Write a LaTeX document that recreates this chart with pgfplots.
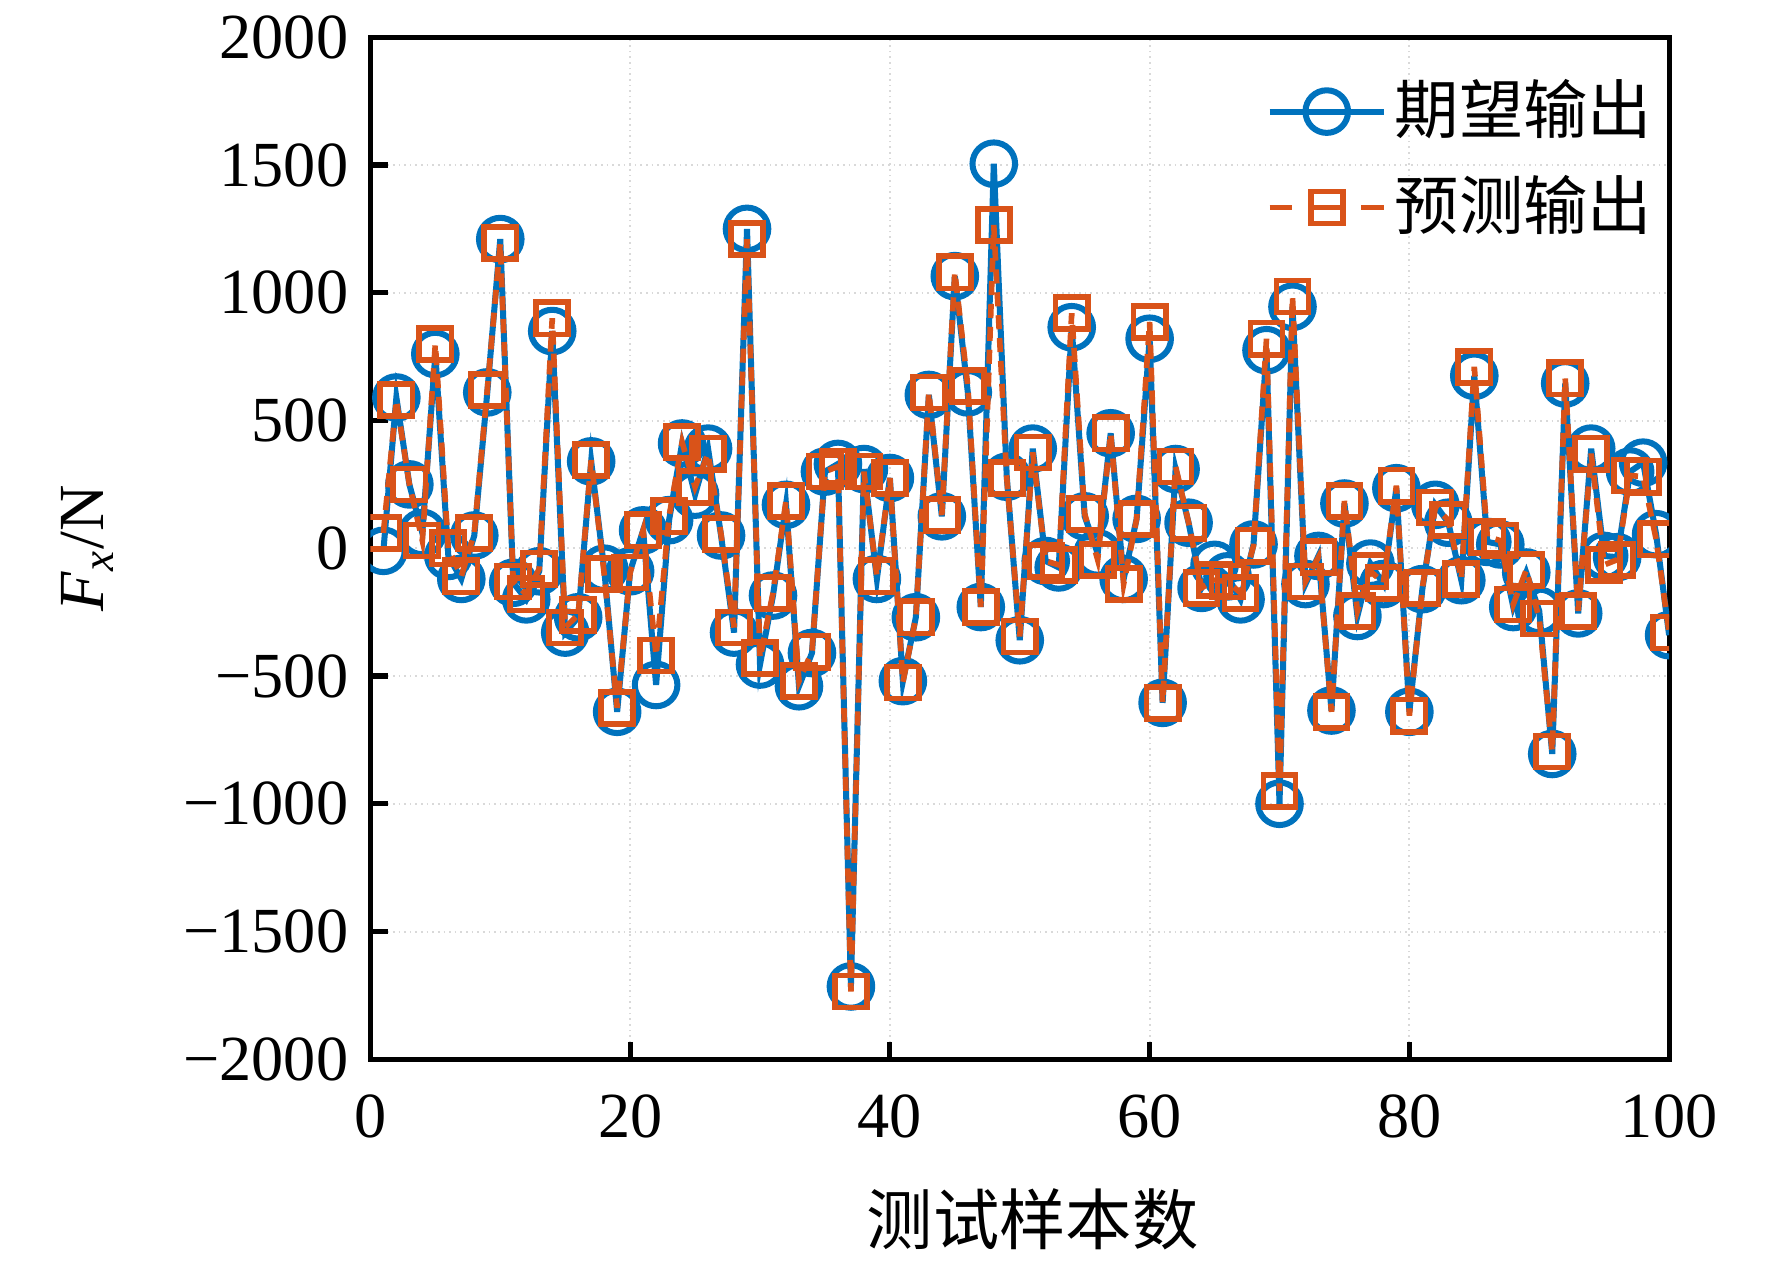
\documentclass[border=0pt]{standalone}
\usepackage{pgfplots}
\pgfplotsset{compat=1.18}
\usepackage{fontspec}
\setmainfont{Liberation Serif}
\newfontfamily\cjk{Noto Sans CJK SC}
\definecolor{mblue}{rgb}{0,0.447,0.741}
\definecolor{morange}{rgb}{0.85,0.325,0.098}
\pgfplotsset{
  legA/.style={legend image code/.code={\draw[##1, mark=none] (0cm,0cm) -- (1.0cm,0cm);
     \draw[##1, only marks] plot coordinates {(0.5cm,0cm)};}},
  legB/.style={legend image code/.code={\draw[##1, mark=none, dash pattern=on 0.2cm off 0.16cm on 0.28cm off 0.16cm] (0cm,0cm) -- (1.0cm,0cm);
     \draw[##1, only marks] plot coordinates {(0.5cm,0cm)};}},
}
\pgfplotstableread{
i  a     b
1  -10   60
2  590   580
3  250   250
4  60    30
5  760   800
6  -30   0
7  -120  -110
8  50    60
9  610   620
10 1210  1195
11 -135  -130
12 -200  -180
13 -90   -80
14 850   900
15 -330  -310
16 -270  -260
17 340   345
18 -80   -100
19 -640  -625
20 -90   -95
21 70    70
22 -535  -420
23 110   125
24 410   415
25 210   240
26 390   370
27 50    55
28 -330  -310
29 1250  1210
30 -455  -430
31 -185  -175
32 170   185
33 -540  -520
34 -410  -405
35 300   300
36 330   320
37 -1715 -1735
38 310   300
39 -120  -110
40 275   275
41 -520  -525
42 -270  -270
43 600   610
44 125   130
45 1065  1080
46 610   635
47 -230  -230
48 1505  1265
49 280   275
50 -360  -345
51 390   375
52 -50   -50
53 -75   -65
54 865   920
55 125   135
56 -20   -45
57 450   450
58 -120  -140
59 115   115
60 820   885
61 -605  -605
62 310   320
63 100   100
64 -155  -155
65 -65   -125
66 -110  -130
67 -200  -175
68 15    10
69 775   820
70 -1000 -950
71 945   985
72 -140  -130
73 -30   -35
74 -635  -640
75 175   185
76 -265  -245
77 -60   -90
78 -140  -135
79 235   245
80 -640  -655
81 -160  -155
82 170   160
83 100   110
84 -125  -120
85 675   710
86 25    45
87 15    30
88 -230  -220
89 -95   -85
90 -245  -275
91 -805  -795
92 645   665
93 -255  -245
94 390   370
95 -30   -65
96 -35   -45
97 300   285
98 335   280
99 55    35
100 -340 -330
}\data
\begin{document}
\fontsize{16}{19}\selectfont
\begin{tikzpicture}
\begin{axis}[
  name=ax,
  scale only axis,
  width=11.36cm, height=8.94cm,
  xmin=0, xmax=100, ymin=-2000, ymax=2000,
  xtick={0,20,...,100},
  xticklabels={0,20,40,60,80,100},
  ytick={-2000,-1500,...,2000},
  yticklabels={−2000,−1500,−1000,−500,0,500,1000,1500,2000},
  tick align=inside, tick pos=left,
  major tick length=0.15cm,
  axis line style={line width=1.3pt},
  every tick/.style={black, line width=1.3pt},
  grid=major,
  grid style={densely dotted, gray!30, line width=0.5pt},
  ticklabel style={font=\fontsize{16}{19}\selectfont},
  xticklabel style={yshift=-0.12cm},
  xlabel={\cjk 测试样本数},
  ylabel={\textit{F}\textsubscript{\textit{x}}/N},
  xlabel style={at={(axis description cs:0.51,-0.157)}, anchor=center, font=\fontsize{16.5}{19}\selectfont},
  ylabel style={at={(axis description cs:-0.218,0.5)}, anchor=center, rotate=0, font=\fontsize{16}{19}\selectfont},
  legend style={at={(rel axis cs:1.003,0.975)}, anchor=north east, draw=none, fill=none,
    font=\fontsize{16}{19}\selectfont\cjk, row sep=4pt,
    nodes={inner xsep=2pt}},
  legend cell align=left,
  clip=true,
  clip marker paths=true,
]
\addplot[mblue, line width=1.5pt, mark=o, mark size=5.3pt, mark options={solid, line width=1.5pt}, legA] table[x=i,y=a]{\data};
\addlegendentry{期望输出}
\addplot[morange, line width=1.4pt, dash pattern=on 3.5pt off 2.2pt, mark=square, mark size=4pt, mark options={solid, line width=1.4pt}, legB] table[x=i,y=b]{\data};
\addlegendentry{预测输出}
\end{axis}
\pgfresetboundingbox
\useasboundingbox ([shift={(-3.24cm,-1.76cm)}]ax.south west) rectangle ([shift={(0.9cm,0.326cm)}]ax.north east);
\end{tikzpicture}
\end{document}
